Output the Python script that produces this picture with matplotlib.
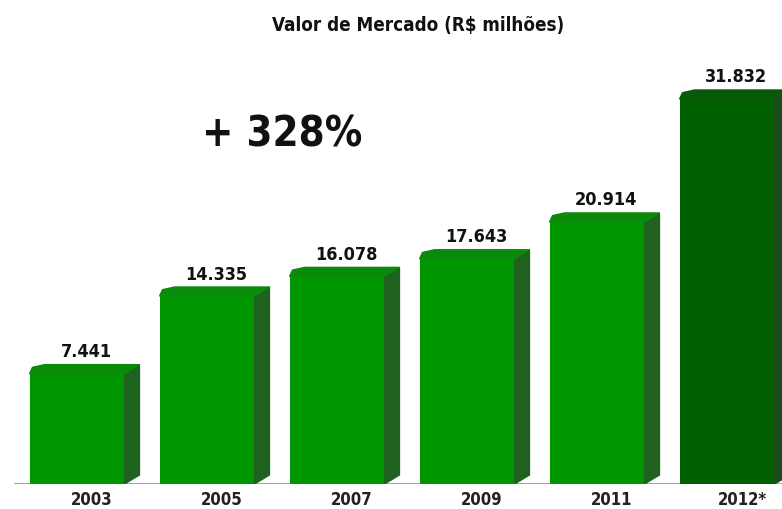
import matplotlib
matplotlib.use("Agg")
import matplotlib.pyplot as plt
from matplotlib import font_manager
from matplotlib.patches import Polygon

# narrow bold font if one is installed, else plain DejaVu
narrow = [f for f in font_manager.fontManager.ttflist
          if f.stretch in ("condensed", "semi-condensed") or "Narrow" in f.name]
if narrow:
    plt.rcParams["font.family"] = [narrow[0].name, "DejaVu Sans"]
    stretch = narrow[0].stretch
    scale = 1.0
else:
    plt.rcParams["font.family"] = ["DejaVu Sans"]
    stretch = "normal"
    scale = 0.85

years = ["2003", "2005", "2007", "2009", "2011", "2012*"]
values = [7.441, 14.335, 16.078, 17.643, 20.914, 31.832]
value_labels = ["7.441", "14.335", "16.078", "17.643", "20.914", "31.832"]
growth_label = "+ 328%"
title = "Valor de Mercado (R$ milhões)"

front_colors = ["#009600"] * 5 + ["#006000"]
top_colors = ["#0a8a0a"] * 5 + ["#0a580a"]
side_colors = ["#1f621f"] * 5 + ["#1c4c1c"]

fig = plt.figure(figsize=(7.82, 5.10), dpi=100)
ax = fig.add_axes([0, 25 / 510, 1, 485 / 510])

ymin = -2.36
ax.set_ylim(ymin, ymin + 485 / 11.26)
ax.set_xlim(-77 / 130, (782 - 77) / 130)
ax.axis("off")

width = 0.73
dx = 15 / 130
dy = 9 / 11.26
xs = list(range(len(values)))

ax.bar(xs, [v - ymin for v in values], bottom=ymin, width=width,
       color=front_colors, zorder=3)

for x, v, tc, sc in zip(xs, values, top_colors, side_colors):
    l, r = x - width / 2, x + width / 2
    top = Polygon([(l, v), (l + dx * 0.2, v + dy * 0.7), (l + dx, v + dy),
                   (r + dx, v + dy), (r, v)], closed=True, color=tc, zorder=3)
    side = Polygon([(r, ymin), (r + dx, ymin + dy), (r + dx, v + dy), (r, v)],
                   closed=True, color=sc, zorder=2)
    ax.add_patch(top)
    ax.add_patch(side)

for x, v, lab in zip(xs, values, value_labels):
    ax.text(x + 0.07, v + dy + 0.4, lab, ha="center", va="bottom",
            fontsize=13 * scale, fontweight="bold", fontstretch=stretch,
            color="#111111")

ax.axhline(ymin, xmin=15 / 782, xmax=1, color="#999999", lw=2, zorder=1)

for x, y in zip(xs, years):
    fig.text((77 + 130 * x + 15) / 782, 1 - 500 / 510, y, ha="center",
             va="center", fontsize=12 * scale, fontweight="bold",
             fontstretch=stretch, color="#222222")

fig.text(418 / 782, 1 - 25 / 510, title, ha="center", va="center",
         fontsize=13.5 * scale, fontweight="bold", fontstretch=stretch,
         color="#111111")
fig.text(282 / 782, 1 - 135 / 510, growth_label, ha="center", va="center",
         fontsize=30 * scale, fontweight="bold", fontstretch=stretch,
         color="#111111")

fig.savefig("out.png", dpi=100)
